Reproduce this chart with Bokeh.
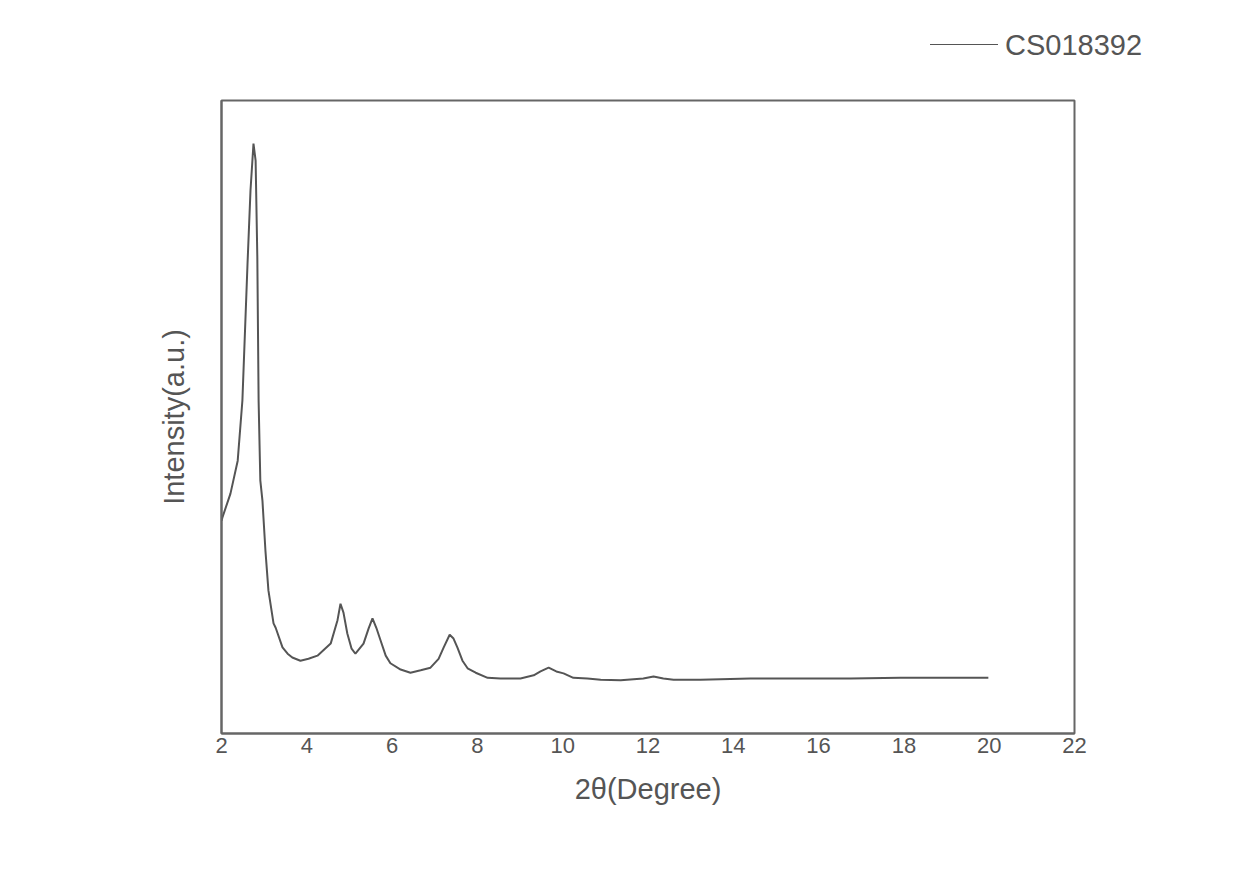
from bokeh.plotting import figure
from bokeh.layouts import column
from bokeh.models import Range1d, FixedTicker, Div
from bokeh.embed import file_html
from bokeh.resources import INLINE

# 2theta (degree) and intensity (a.u., arbitrary 0-100 scale)
two_theta = [2.00, 2.02, 2.21, 2.38, 2.49, 2.61, 2.68, 2.75, 2.80, 2.84, 2.87, 2.91,
             2.96, 3.03, 3.10, 3.22, 3.27, 3.43, 3.55, 3.66, 3.85, 4.04, 4.25, 4.56,
             4.72, 4.79, 4.86, 4.95, 5.05, 5.14, 5.33, 5.45, 5.54, 5.63, 5.73, 5.85,
             5.96, 6.20, 6.43, 6.67, 6.90, 7.09, 7.21, 7.35, 7.44, 7.53, 7.65, 7.77,
             7.96, 8.24, 8.54, 9.01, 9.32, 9.48, 9.67, 9.85, 10.02, 10.25, 10.58, 10.89,
             11.36, 11.89, 12.13, 12.36, 12.60, 13.23, 14.40, 15.58, 16.75, 17.92, 19.09, 19.98]
intensity = [33.6, 34.1, 37.9, 43.1, 52.6, 74.2, 85.8, 93.2, 90.5, 75.2, 52.6, 40.0,
             36.8, 28.9, 22.6, 17.4, 16.7, 13.6, 12.6, 12.0, 11.5, 11.8, 12.3, 14.2,
             17.9, 20.5, 19.1, 15.8, 13.4, 12.6, 14.2, 16.6, 18.2, 16.7, 14.7, 12.3,
             11.1, 10.1, 9.6, 10.0, 10.4, 11.8, 13.6, 15.6, 15.0, 13.6, 11.5, 10.3,
             9.6, 8.8, 8.7, 8.7, 9.2, 9.8, 10.4, 9.8, 9.5, 8.8, 8.7, 8.5,
             8.4, 8.7, 9.0, 8.7, 8.5, 8.5, 8.7, 8.7, 8.7, 8.8, 8.8, 8.8]
x_ticks = [2, 4, 6, 8, 10, 12, 14, 16, 18, 20, 22]
series_name = "CS018392"

FONT = "Liberation Sans"
TXT = "#555555"
FRAME = "#666666"
LINE = "#555555"

# --- legend strip above the plot ---
legend_html = (
    '<div style="position:relative;width:1238px;height:70px;">'
    '<div style="position:absolute;left:930px;top:44px;width:68px;height:0;'
    'border-top:1.6px solid %s;"></div>'
    '<div style="position:absolute;left:1005px;top:31px;font-family:\'%s\';'
    'font-size:29px;line-height:29px;color:%s;white-space:nowrap;">%s</div>'
    '</div>' % (LINE, FONT, TXT, series_name)
)
top = Div(text=legend_html, width=1238, height=70, margin=0)

# --- main plot ---
p = figure(frame_width=853, frame_height=633, output_backend="svg",
           toolbar_location=None, x_range=Range1d(2, 22), y_range=Range1d(0, 100),
           min_border_left=221, min_border_top=30, min_border_right=164,
           min_border_bottom=130, background_fill_color="white",
           border_fill_color="white")
p.grid.visible = False
p.outline_line_color = FRAME
p.outline_line_width = 2

p.line(two_theta, intensity, line_color=LINE, line_width=2)

xa = p.xaxis[0]
xa.ticker = FixedTicker(ticks=x_ticks)
xa.major_tick_out = 0
xa.major_tick_in = 0
xa.minor_tick_out = 0
xa.minor_tick_in = 0
xa.axis_line_color = FRAME
xa.axis_line_width = 2
xa.major_label_text_font = FONT
xa.major_label_text_font_size = "22px"
xa.major_label_text_color = TXT
xa.major_label_standoff = 4
xa.axis_label = "2θ(Degree)"
xa.axis_label_text_font = FONT
xa.axis_label_text_font_size = "29px"
xa.axis_label_text_font_style = "normal"
xa.axis_label_text_color = TXT
xa.axis_label_standoff = 17

ya = p.yaxis[0]
ya.ticker = FixedTicker(ticks=[])
ya.major_tick_out = 0
ya.major_tick_in = 0
ya.minor_tick_out = 0
ya.minor_tick_in = 0
ya.axis_line_color = FRAME
ya.axis_line_width = 2
ya.axis_label = "Intensity(a.u.)"
ya.axis_label_text_font = FONT
ya.axis_label_text_font_size = "29px"
ya.axis_label_text_font_style = "normal"
ya.axis_label_text_color = TXT
ya.axis_label_standoff = 32

layout = column(top, p, spacing=0)
open("out.html", "w").write(file_html(layout, INLINE))
